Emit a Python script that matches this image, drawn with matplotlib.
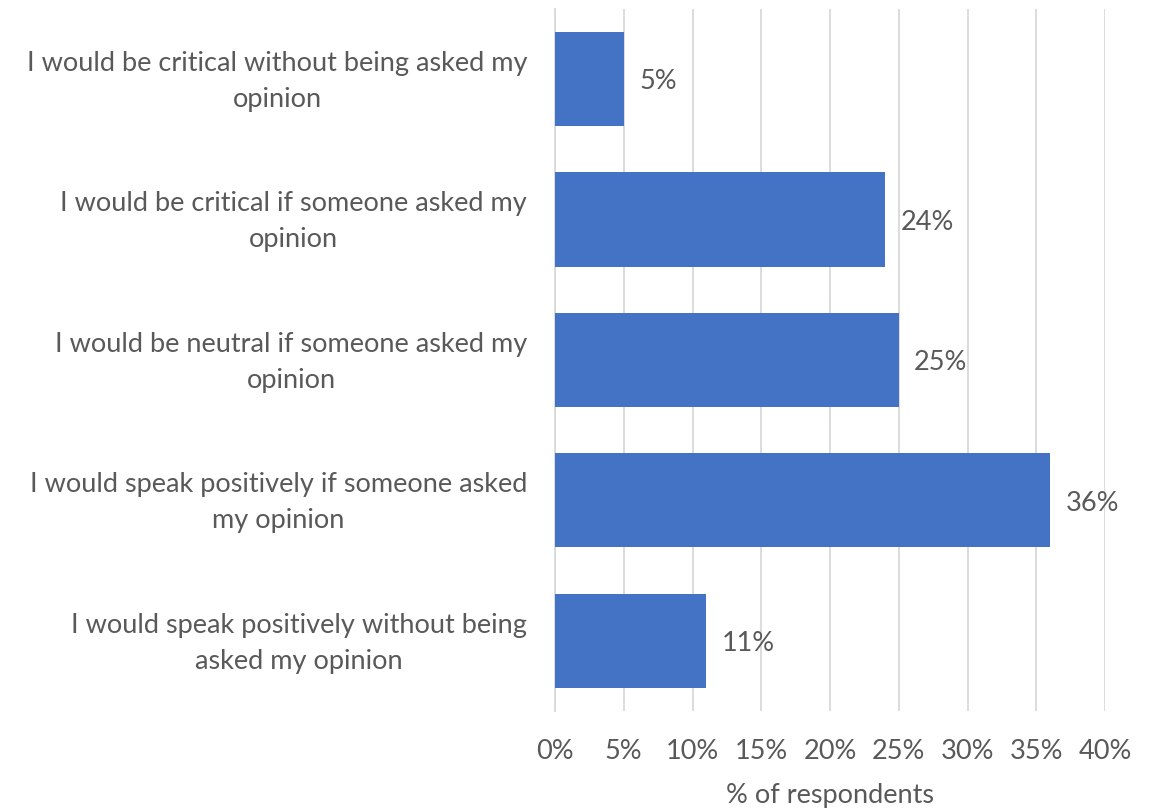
import matplotlib
matplotlib.use("Agg")
import matplotlib.pyplot as plt

categories = [
    "I would be critical without being asked my\nopinion",
    "I would be critical if someone asked my\nopinion",
    "I would be neutral if someone asked my\nopinion",
    "I would speak positively if someone asked\nmy opinion",
    "I would speak positively without being\nasked my opinion",
]
values = [5, 24, 25, 36, 11]
xticks = [0, 5, 10, 15, 20, 25, 30, 35, 40]
xlabel = "% of respondents"

plt.rcParams['font.family'] = ['Lato', 'DejaVu Sans']
txt = '#595959'
fs = 19.5
fig = plt.figure(figsize=(11.5, 8.08), dpi=100)
ax = fig.add_axes([0.4826, 0.12, 0.9609 - 0.4826, 0.989 - 0.12])

y = list(range(len(categories)))
bars = ax.barh(y, values, height=0.67, color='#4472C4', zorder=3)
for yi, v in zip(y, values):
    ax.annotate(f"{v}%", xy=(v, yi), xytext=(11, -2), textcoords='offset points',
                va='center', ha='left', fontsize=fs, color=txt)

ax.set_xlim(0, 40)
ax.set_ylim(len(categories) - 0.5, -0.5)
ax.set_yticks(y)
ax.set_yticklabels([])
for yi, cat in zip(y, categories):
    ax.annotate(cat, xy=(0, yi), xycoords=('axes fraction', 'data'),
                xytext=(-20, -1.6), textcoords='offset points',
                ha='right', va='center', multialignment='center',
                linespacing=1.55, fontsize=fs, color=txt)
ax.set_xticks(xticks)
ax.set_xticklabels([f"{t}%" for t in xticks], fontsize=fs, color=txt)
ax.set_xlabel(xlabel, fontsize=fs, color=txt, labelpad=14)
ax.tick_params(axis='both', length=0)
ax.tick_params(axis='x', pad=20)
ax.grid(axis='x', color='#D9D9D9', linewidth=1.3, zorder=0)
for s in ['top', 'right', 'bottom']:
    ax.spines[s].set_visible(False)
ax.spines['left'].set_color('#D9D9D9')
ax.spines['left'].set_linewidth(1.3)

fig.savefig('out.png', dpi=100)
